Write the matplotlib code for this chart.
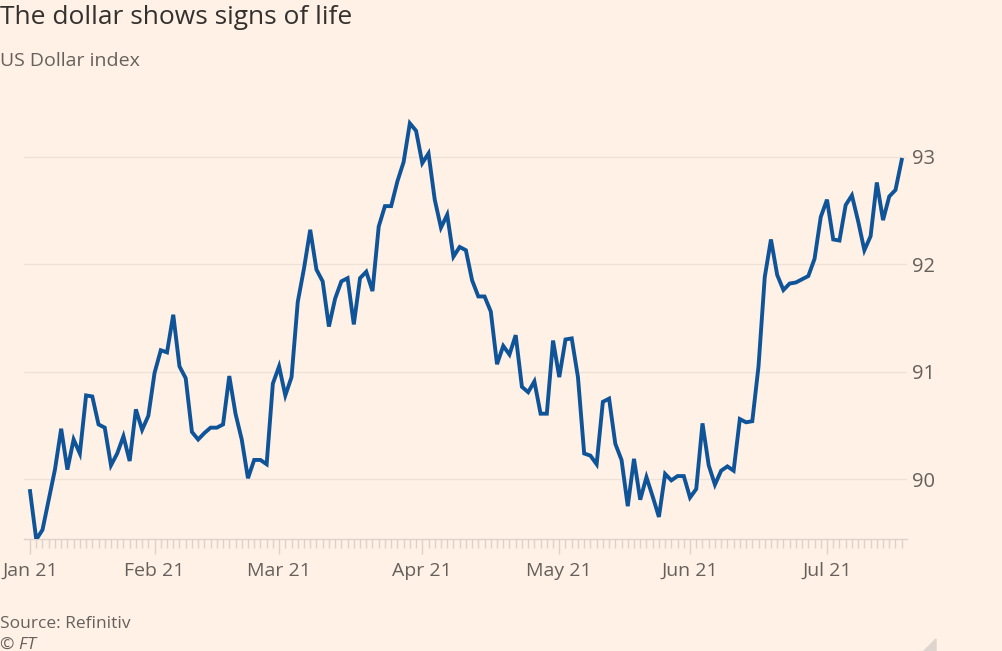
import matplotlib.pyplot as plt
import pandas as pd

# US Dollar index, business days 4 Jan - 19 Jul 2021
dates = pd.bdate_range('2021-01-04', '2021-07-19')
dxy = [
    89.89, 89.44, 89.53, 89.81, 90.09, 90.47, 90.09, 90.37, 90.24, 90.78,
    90.77, 90.51, 90.48, 90.13, 90.24, 90.40, 90.17, 90.65, 90.46, 90.59,
    90.99, 91.20, 91.18, 91.53, 91.05, 90.94, 90.44, 90.37, 90.43, 90.48,
    90.48, 90.51, 90.96, 90.61, 90.37, 90.01, 90.18, 90.18, 90.14, 90.89,
    91.05, 90.78, 90.95, 91.65, 91.96, 92.32, 91.95, 91.84, 91.42, 91.68,
    91.84, 91.87, 91.44, 91.87, 91.93, 91.75, 92.35, 92.54, 92.54, 92.77,
    92.95, 93.31, 93.24, 92.94, 93.03, 92.60, 92.34, 92.46, 92.07, 92.16,
    92.13, 91.85, 91.70, 91.70, 91.56, 91.07, 91.24, 91.16, 91.34, 90.86,
    90.81, 90.91, 90.61, 90.61, 91.29, 90.95, 91.30, 91.31, 90.95, 90.24,
    90.22, 90.14, 90.72, 90.75, 90.33, 90.18, 89.75, 90.19, 89.81, 90.02,
    89.84, 89.65, 90.05, 89.99, 90.03, 90.03, 89.83, 89.91, 90.52, 90.13,
    89.95, 90.08, 90.12, 90.08, 90.56, 90.53, 90.54, 91.05, 91.88, 92.23,
    91.90, 91.76, 91.82, 91.83, 91.86, 91.89, 92.05, 92.44, 92.60, 92.23,
    92.22, 92.55, 92.64, 92.40, 92.13, 92.26, 92.76, 92.41, 92.63, 92.69,
    92.97,
]
y_ticks = [90, 91, 92, 93]

bg = '#FFF1E5'
txt = '#66605C'
plt.rcParams['font.family'] = ['Open Sans', 'DejaVu Sans']

fig = plt.figure(figsize=(10.02, 6.51), dpi=100, facecolor=bg)
ax = fig.add_axes([24 / 1002, (651 - 539.3) / 651, (906.7 - 24) / 1002, (539.3 - 119) / 651])
ax.set_facecolor(bg)

x = list(range(len(dates)))
ax.plot(x, dxy, color='#0F5499', linewidth=2.8, solid_joinstyle='miter', zorder=3)

ax.set_xlim(-0.97, 140.8)
ax.set_ylim(89.442, 93.35)

# month ticks at the first business day of each month
month_pos = [i for i in x if i == 0 or dates[i].month != dates[i - 1].month]
month_lab = [dates[i].strftime('%b %y') for i in month_pos]
ax.set_xticks(month_pos)
ax.set_xticklabels(month_lab)
ax.set_xticks(x, minor=True)
ax.tick_params(axis='x', which='major', length=11, width=1, color='#DCD2C9',
               labelsize=14, labelcolor=txt, pad=5)
ax.tick_params(axis='x', which='minor', length=6.5, width=1, color='#DCD2C9')

ax.yaxis.tick_right()
ax.set_yticks(y_ticks)
ax.set_yticklabels([str(v) for v in y_ticks])
ax.tick_params(axis='y', length=0, labelsize=14.5, labelcolor=txt, pad=4)
ax.grid(axis='y', color='#EDE2D8', linewidth=1)

for s in ['top', 'right', 'left']:
    ax.spines[s].set_visible(False)
ax.spines['bottom'].set_color('#DCD2C9')
ax.spines['bottom'].set_linewidth(1)

fig.text(0, 1 - 18 / 651, 'The dollar shows signs of life', fontsize=19,
         color='#33302E', va='center', ha='left')
fig.text(0, 1 - 61 / 651, 'US Dollar index', fontsize=14, color=txt,
         va='center', ha='left')
fig.text(0, 1 - 624 / 651, 'Source: Refinitiv', fontsize=12.5, color=txt,
         va='center', ha='left')
fig.text(0, 1 - 645 / 651, '© FT', fontsize=12.5, color=txt, style='italic',
         va='center', ha='left')

# small grey corner mark at bottom right
fig.patches.append(plt.Polygon([(936 / 1002, 0), (936 / 1002, 12 / 651), (924 / 1002, 0)],
                               closed=True, transform=fig.transFigure,
                               color='#DDD5CE', zorder=0))

fig.savefig('out.png', dpi=100, facecolor=bg)
